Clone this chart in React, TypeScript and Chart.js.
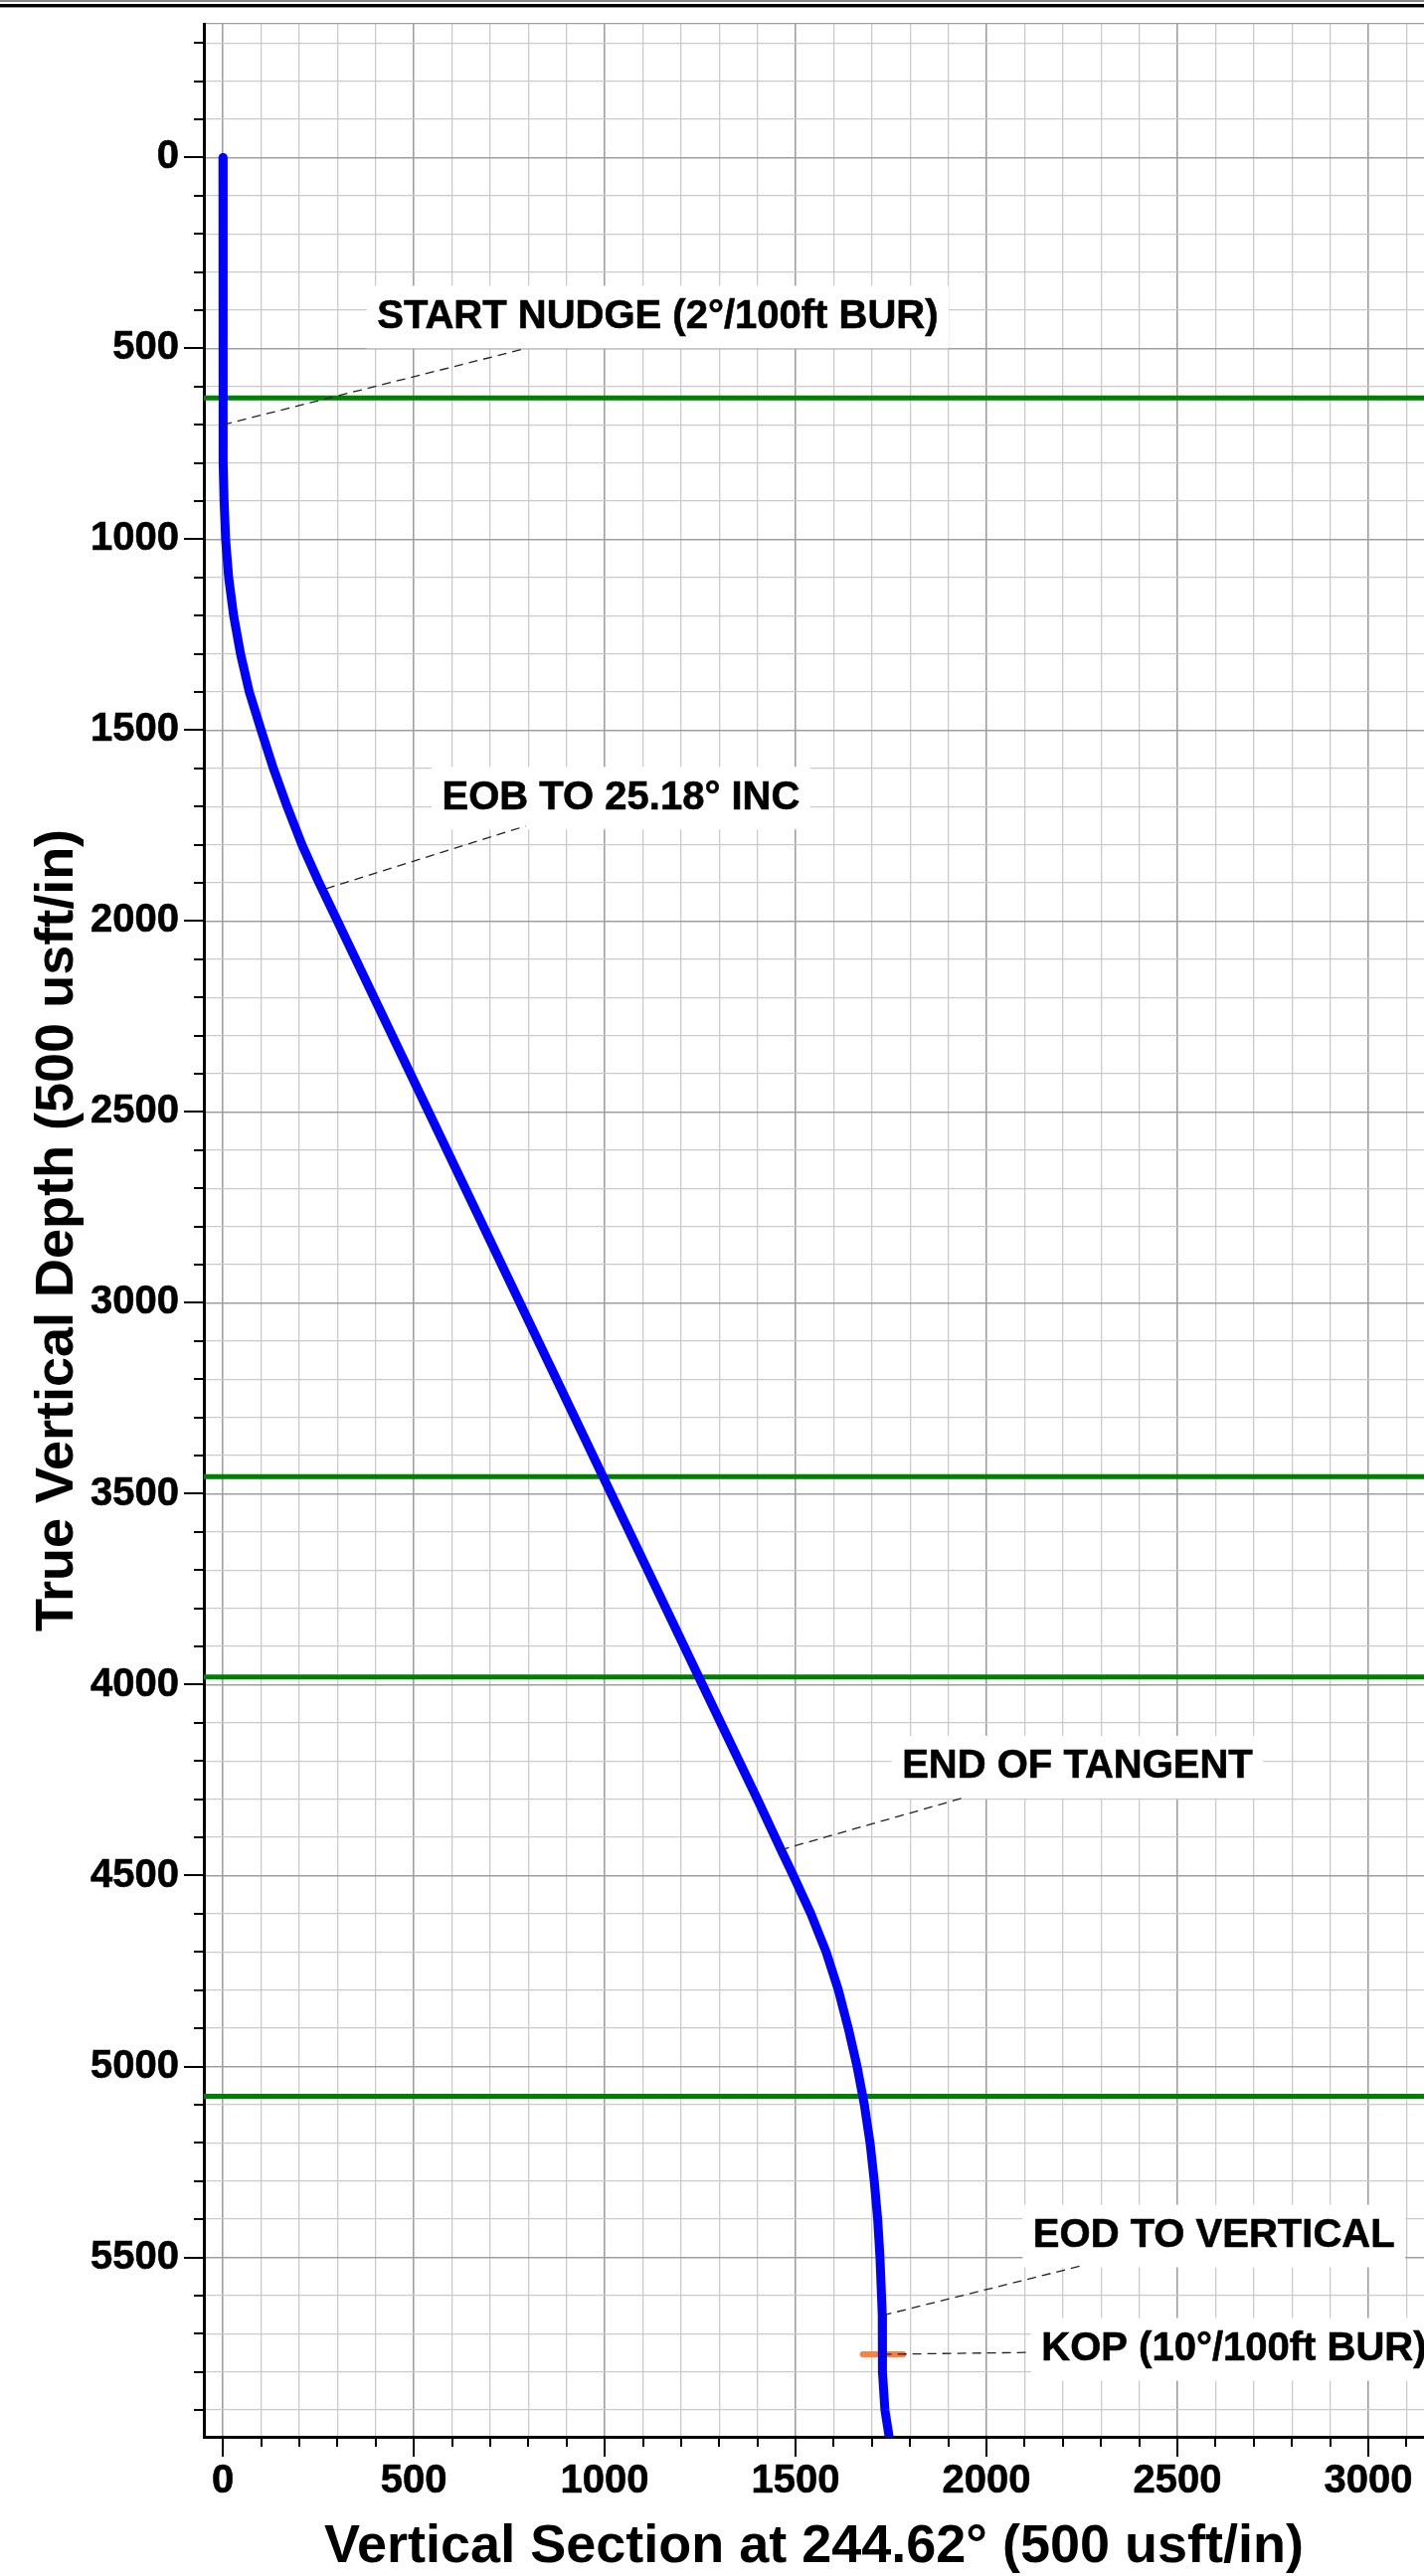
import React, { useEffect, useRef } from "react";
import { Chart, registerables } from "chart.js";

Chart.register(...registerables);

const FONT = '"Liberation Sans", Arial, Helvetica, sans-serif';
const CANVAS_W = 1432;
const CANVAS_H = 2591;

// Axis ranges (usft)
const vsMin = -50;
const vsMax = 3146;
const tvdMin = -350;
const tvdMax = 5970;

// Well path: TVD (usft) and Vertical Section (usft)
const wellTvd = [0, 700, 800, 900, 1000, 1100, 1200, 1300, 1400, 1500, 1600, 1700, 1800, 1900, 2000, 3000, 4000, 4300, 4433, 4500, 4600, 4700, 4800, 4900, 5000, 5100, 5200, 5300, 5400, 5500, 5600, 5652, 5754, 5800, 5900, 5970];
const wellVs = [0, 0, 1, 3, 7, 15, 28, 46, 69, 100, 132, 168, 207, 252, 300, 778, 1256, 1400, 1462, 1494, 1540, 1580, 1612, 1638, 1661, 1680, 1695, 1706, 1715, 1721, 1725, 1727, 1727, 1728, 1734, 1745];

// Horizontal formation lines (TVD usft)
const formationTvd = [630, 3455, 3980, 5078];

// KOP marker (short orange bar)
const kopMarkerVs = [1676, 1782];
const kopMarkerTvd = 5754;

// Annotations
const annoText = ["START NUDGE (2°/100ft BUR)", "EOB TO 25.18° INC", "END OF TANGENT", "EOD TO VERTICAL", "KOP (10°/100ft BUR)"];
const annoPointVs = [0, 270, 1460, 1728, 1728];
const annoPointTvd = [700, 1915, 4433, 5652, 5754];
const annoEndVs = [790, 793, 1934, 2249, 2111];
const annoEndTvd = [501, 1751, 4298, 5522, 5749];
const annoLabelVs = [404, 574, 1779, 2122, 2144];
const annoLabelTvd = [418, 1678, 4216, 5444, 5741];

// Ticks: every 100 usft, labels every 500 usft
const tickStep = 100;
const labelStep = 500;
const xTickFirst = 0;
const xTickLast = 3100;
const yTickFirst = -300;
const yTickLast = 5900;

const stepRange = (a: number, b: number, s: number) => {
  const out: number[] = [];
  for (let v = a; v <= b + 1e-9; v += s) out.push(v);
  return out;
};
const xTickValues = stepRange(xTickFirst, xTickLast, tickStep);
const yTickValues = [tvdMin, ...stepRange(yTickFirst, yTickLast, tickStep)];

const isMajor = (v: number) => Math.abs(v % labelStep) < 1e-6;
const isStep = (v: number) => Math.abs(v % tickStep) < 1e-6;

const decorPlugin = {
  id: "decor",
  beforeDraw(chart: any) {
    const { ctx } = chart;
    ctx.save();
    ctx.fillStyle = "#ffffff";
    ctx.fillRect(0, 0, chart.width, chart.height);
    ctx.fillStyle = "#555555";
    ctx.fillRect(0, 0.3, chart.width, 1.4);
    ctx.fillStyle = "#000000";
    ctx.fillRect(0, 4, chart.width, 3.4);
    ctx.restore();
  },
};

const tickMarkPlugin = {
  id: "tickMarks",
  afterDraw(chart: any) {
    const { ctx, chartArea } = chart;
    const xs = chart.scales.x;
    const ys = chart.scales.y;
    ctx.save();
    ctx.strokeStyle = "#000";
    ctx.lineWidth = 2;
    ctx.beginPath();
    ys.ticks.forEach((t: any) => {
      const v = t.value;
      if (!isStep(v)) return;
      const py = Math.round(ys.getPixelForValue(v));
      const len = isMajor(v) ? 20 : 10;
      ctx.moveTo(chartArea.left - len, py);
      ctx.lineTo(chartArea.left, py);
    });
    xs.ticks.forEach((t: any) => {
      const v = t.value;
      if (!isStep(v)) return;
      const px = Math.round(xs.getPixelForValue(v));
      const len = isMajor(v) ? 20 : 10;
      ctx.moveTo(px, chartArea.bottom);
      ctx.lineTo(px, chartArea.bottom + len);
    });
    ctx.stroke();
    ctx.restore();
  },
};

const annotationPlugin = {
  id: "wellAnnotations",
  afterDatasetsDraw(chart: any) {
    const { ctx } = chart;
    const xs = chart.scales.x;
    const ys = chart.scales.y;
    ctx.save();
    ctx.font = `bold 40px ${FONT}`;
    ctx.textBaseline = "middle";
    ctx.textAlign = "left";
    annoText.forEach((t, i) => {
      const lx = xs.getPixelForValue(annoLabelVs[i]);
      const ly = ys.getPixelForValue(annoLabelTvd[i]);
      const w = ctx.measureText(t).width;
      ctx.fillStyle = "#ffffff";
      ctx.fillRect(lx - 10.5, ly - 31.5, w + 21, 63);
      ctx.beginPath();
      ctx.setLineDash([9, 6]);
      ctx.lineWidth = 1.3;
      ctx.strokeStyle = "#222222";
      ctx.moveTo(xs.getPixelForValue(annoPointVs[i]), ys.getPixelForValue(annoPointTvd[i]));
      ctx.lineTo(xs.getPixelForValue(annoEndVs[i]), ys.getPixelForValue(annoEndTvd[i]));
      ctx.stroke();
      ctx.setLineDash([]);
      ctx.fillStyle = "#000000";
      ctx.strokeStyle = "#000000";
      ctx.lineWidth = 0.6;
      ctx.fillText(t, lx, ly);
      ctx.strokeText(t, lx, ly);
    });
    ctx.restore();
  },
};

export default function App() {
  const canvasRef = useRef<HTMLCanvasElement | null>(null);

  useEffect(() => {
    if (!canvasRef.current) return;
    const wellData = wellTvd.map((d, i) => ({ x: wellVs[i], y: d }));
    const formationSets = formationTvd.map((d) => ({
      label: "formation",
      data: [
        { x: vsMin, y: d },
        { x: vsMax, y: d },
      ],
      showLine: true,
      borderColor: "#008000",
      borderWidth: 5,
      pointRadius: 0,
      tension: 0,
    }));

    const gridColor = (ctx: any) => {
      const v = ctx.tick ? ctx.tick.value : 0;
      return isMajor(v) || !isStep(v) ? "#9f9f9f" : "#cbcbcb";
    };
    const gridWidth = (ctx: any) => {
      const v = ctx.tick ? ctx.tick.value : 0;
      return isMajor(v) ? 1.6 : 1.3;
    };
    const labelCb = (v: any) => (isMajor(Number(v)) ? String(v) : "");
    const tickFont = { family: FONT, size: 40, weight: "bold", lineHeight: 1 };

    const chart = new Chart(canvasRef.current, {
      type: "scatter",
      data: {
        datasets: [
          {
            label: "Well",
            data: wellData,
            showLine: true,
            borderColor: "#0000ff",
            borderWidth: 9,
            borderCapStyle: "round",
            borderJoinStyle: "round",
            pointRadius: 0,
            tension: 0,
          } as any,
          {
            label: "KOP",
            data: kopMarkerVs.map((v) => ({ x: v, y: kopMarkerTvd })),
            showLine: true,
            borderColor: "#ff7f3f",
            borderWidth: 6,
            borderCapStyle: "round",
            pointRadius: 0,
          } as any,
          ...(formationSets as any[]),
        ],
      },
      options: {
        animation: false,
        responsive: false,
        devicePixelRatio: 1,
        layout: { padding: { top: 24, left: 0, right: 0, bottom: 0 } },
        plugins: {
          legend: { display: false },
          tooltip: { enabled: false },
        },
        scales: {
          x: {
            type: "linear",
            position: "bottom",
            min: vsMin,
            max: vsMax,
            afterBuildTicks: (s: any) => {
              s.ticks = xTickValues.map((v) => ({ value: v }));
            },
            ticks: {
              autoSkip: false,
              maxRotation: 0,
              minRotation: 0,
              padding: 25,
              color: "#000",
              textStrokeColor: "#000",
              textStrokeWidth: 0.6,
              font: tickFont,
              callback: labelCb,
            },
            grid: { drawTicks: false, color: gridColor, lineWidth: gridWidth },
            border: { color: "#000", width: 3 },
            title: {
              display: true,
              text: "Vertical Section at 244.62° (500 usft/in)",
              color: "#000",
              font: { family: FONT, size: 54, weight: "bold", lineHeight: 1 },
              padding: { top: 0, bottom: 2 },
            },
            afterFit: (s: any) => {
              s.height = 140;
              s.paddingLeft = 0;
              s.paddingRight = 0;
              s.paddingTop = 0;
              s.paddingBottom = 0;
            },
          },
          y: {
            type: "linear",
            reverse: true,
            min: tvdMin,
            max: tvdMax,
            afterBuildTicks: (s: any) => {
              s.ticks = yTickValues.map((v) => ({ value: v }));
            },
            ticks: {
              autoSkip: false,
              padding: 25,
              color: "#000",
              textStrokeColor: "#000",
              textStrokeWidth: 0.6,
              font: tickFont,
              callback: labelCb,
            },
            grid: { drawTicks: false, color: gridColor, lineWidth: gridWidth },
            border: { color: "#000", width: 3 },
            title: {
              display: true,
              text: "True Vertical Depth (500 usft/in)",
              color: "#000",
              font: { family: FONT, size: 54, weight: "bold", lineHeight: 1 },
              padding: { top: 31, bottom: 0 },
            },
            afterFit: (s: any) => {
              s.width = 205;
              s.paddingLeft = 0;
              s.paddingRight = 0;
              s.paddingTop = 0;
              s.paddingBottom = 0;
            },
          },
        },
      } as any,
      plugins: [decorPlugin, annotationPlugin, tickMarkPlugin],
    });
    return () => chart.destroy();
  }, []);

  return (
    <div style={{ position: "absolute", left: 0, top: 0, width: CANVAS_W, height: CANVAS_H, overflow: "hidden" }}>
      <canvas ref={canvasRef} width={CANVAS_W} height={CANVAS_H} style={{ display: "block", width: CANVAS_W, height: CANVAS_H }} />
    </div>
  );
}
